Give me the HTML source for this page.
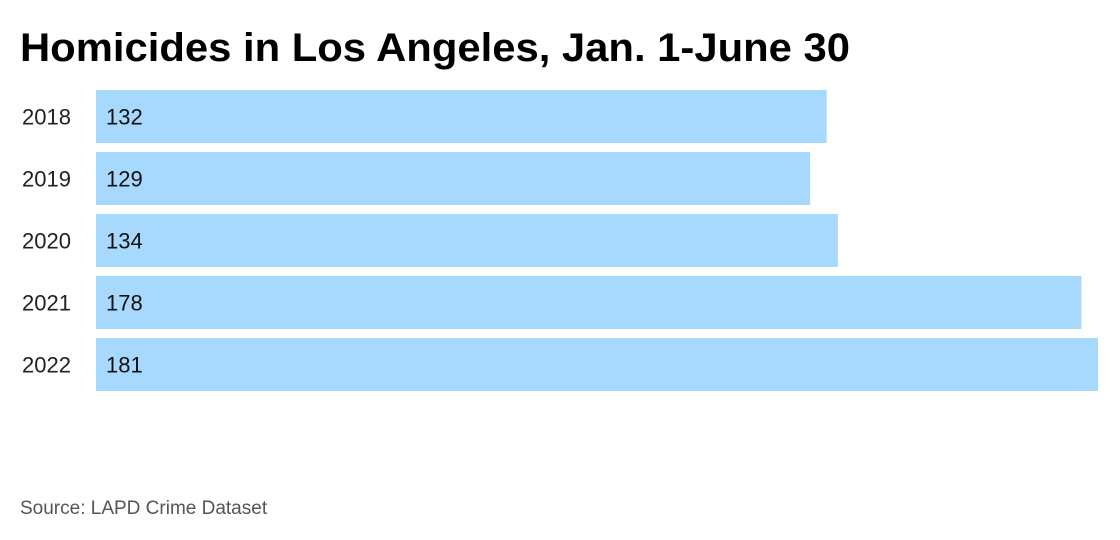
<!DOCTYPE html>
<html><head><meta charset="utf-8"><style>
body{margin:0;background:#fff;}
svg{display:block;font-family:"Liberation Sans",sans-serif;}
</style></head><body>
<svg id="chart" width="1120" height="540">
<text x="20" y="61" font-size="40" font-weight="bold" fill="#000" textLength="830" lengthAdjust="spacingAndGlyphs">Homicides in Los Angeles, Jan. 1-June 30</text>
<g id="bars"></g>
<text x="20" y="514" font-size="19" fill="#555">Source: LAPD Crime Dataset</text>
</svg>
<script>
const categories = ["2018","2019","2020","2021","2022"];
const values = [132,129,134,178,181];
const maxValue = 181;
const x0 = 96, x1 = 1098, yTop = 90, step = 62, barH = 53;
function xScale(v){ return x0 + (x1 - x0) * v / maxValue; }
function yScale(i){ return yTop + i * step; }
const g = document.getElementById('bars');
const ns = 'http://www.w3.org/2000/svg';
categories.forEach((c,i)=>{
  const r = document.createElementNS(ns,'rect');
  r.setAttribute('x',x0); r.setAttribute('y',yScale(i));
  r.setAttribute('width',xScale(values[i])-x0); r.setAttribute('height',barH);
  r.setAttribute('fill','#a6d9fd');
  
  
  g.appendChild(r);
  const l = document.createElementNS(ns,'text');
  l.setAttribute('x',22); l.setAttribute('y',yScale(i)+barH/2+8);
  l.setAttribute('font-size','22'); l.setAttribute('fill','#222');
  l.textContent = c;
  
  
  g.appendChild(l);
  const v = document.createElementNS(ns,'text');
  v.setAttribute('x',106); v.setAttribute('y',yScale(i)+barH/2+8);
  v.setAttribute('font-size','22'); v.setAttribute('fill','#111');
  v.textContent = values[i];
  
  
  g.appendChild(v);
});
</script>
</body></html>
